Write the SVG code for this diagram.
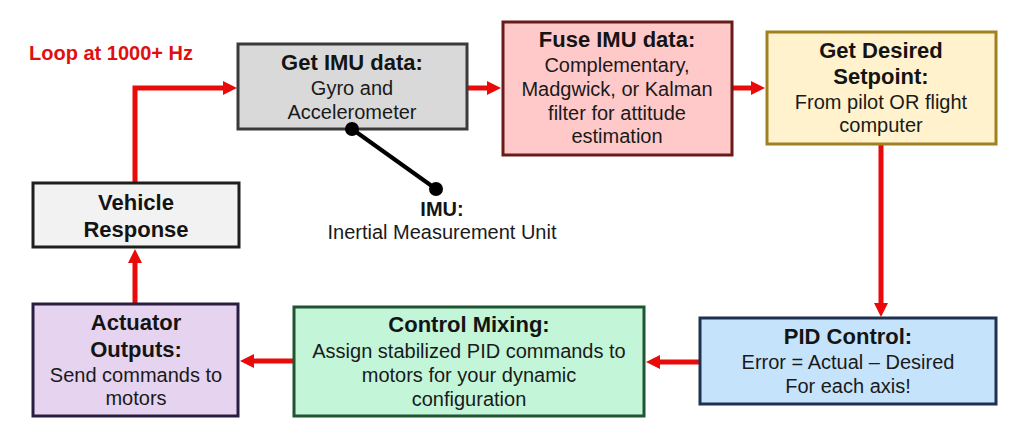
<svg xmlns="http://www.w3.org/2000/svg" width="1028" height="445" viewBox="0 0 1028 445">
  <defs>
    <marker id="arrow" viewBox="0 0 14 14" refX="1" refY="7" markerWidth="14" markerHeight="14" markerUnits="userSpaceOnUse" orient="auto">
      <path d="M0,0 L14,7 L0,14 z" fill="#ea0a0a"/>
    </marker>
    <style>
      .box { stroke-width: 3; }
      .t { font-family: "Liberation Sans", Arial, sans-serif; font-size: 22px; font-weight: bold; fill: #141414; text-anchor: middle; }
      .s { font-family: "Liberation Sans", Arial, sans-serif; font-size: 20px; fill: #1a1a1a; text-anchor: middle; }
      .conn { fill: none; stroke: #ea0a0a; stroke-width: 5; marker-end: url(#arrow); }
    </style>
  </defs>
  <rect width="1028" height="445" fill="#ffffff"/>

  <text x="29" y="60" font-family="Liberation Sans, Arial, sans-serif" font-size="20" font-weight="bold" fill="#e01010">Loop at 1000+ Hz</text>

  <g id="connectors">
    <path class="conn" d="M135,183 V88 H224"/>
    <path class="conn" d="M467,88 H488"/>
    <path class="conn" d="M732,88 H752"/>
    <path class="conn" d="M881,144 V304"/>
    <path class="conn" d="M700,362 H659"/>
    <path class="conn" d="M294,361 H253"/>
    <path class="conn" d="M135,304 V262"/>
  </g>

  <g id="get-imu">
    <rect class="box" x="238" y="44" width="229" height="85" fill="#d9d9d9" stroke="#3a3a3a"/>
    <text class="t" x="352" y="70">Get IMU data:</text>
    <text class="s" x="352" y="95">Gyro and</text>
    <text class="s" x="352" y="119">Accelerometer</text>
  </g>

  <g id="fuse-imu">
    <rect class="box" x="503" y="22" width="229" height="133" fill="#ffc9c9" stroke="#6b1a1a"/>
    <text class="t" x="617" y="47">Fuse IMU data:</text>
    <text class="s" x="617" y="72">Complementary,</text>
    <text class="s" x="617" y="96">Madgwick, or Kalman</text>
    <text class="s" x="617" y="120">filter for attitude</text>
    <text class="s" x="617" y="143">estimation</text>
  </g>

  <g id="desired-setpoint">
    <rect class="box" x="767" y="32" width="229" height="112" fill="#fff2cc" stroke="#a08020"/>
    <text class="t" x="881" y="58">Get Desired</text>
    <text class="t" x="881" y="84">Setpoint:</text>
    <text class="s" x="881" y="109">From pilot OR flight</text>
    <text class="s" x="881" y="132">computer</text>
  </g>

  <g id="pid-control">
    <rect class="box" x="700" y="318" width="296" height="86" fill="#c5e4fb" stroke="#1c3250"/>
    <text class="t" x="848" y="344">PID Control:</text>
    <text class="s" x="848" y="369">Error = Actual – Desired</text>
    <text class="s" x="848" y="393">For each axis!</text>
  </g>

  <g id="control-mixing">
    <rect class="box" x="294" y="307" width="350" height="109" fill="#c3f5d9" stroke="#1f5530"/>
    <text class="t" x="469" y="332">Control Mixing:</text>
    <text class="s" x="469" y="358">Assign stabilized PID commands to</text>
    <text class="s" x="469" y="382">motors for your dynamic</text>
    <text class="s" x="469" y="406">configuration</text>
  </g>

  <g id="actuator-outputs">
    <rect class="box" x="33" y="304" width="205" height="112" fill="#e5d3ef" stroke="#2a1e40"/>
    <text class="t" x="136" y="330">Actuator</text>
    <text class="t" x="136" y="357">Outputs:</text>
    <text class="s" x="136" y="382">Send commands to</text>
    <text class="s" x="136" y="405">motors</text>
  </g>

  <g id="vehicle-response">
    <rect class="box" x="33" y="183" width="206" height="64" fill="#f2f2f2" stroke="#1e1e1e"/>
    <text class="t" x="136" y="210">Vehicle</text>
    <text class="t" x="136" y="237">Response</text>
  </g>

  <g id="imu-label">
    <line x1="352" y1="129" x2="436" y2="189" stroke="#000000" stroke-width="4"/>
    <circle cx="352" cy="129" r="7" fill="#000000"/>
    <circle cx="436" cy="189" r="7" fill="#000000"/>
    <text x="442" y="216" font-family="Liberation Sans, Arial, sans-serif" font-size="20" font-weight="bold" fill="#141414" text-anchor="middle">IMU:</text>
    <text class="s" x="442" y="239">Inertial Measurement Unit</text>
  </g>
</svg>
